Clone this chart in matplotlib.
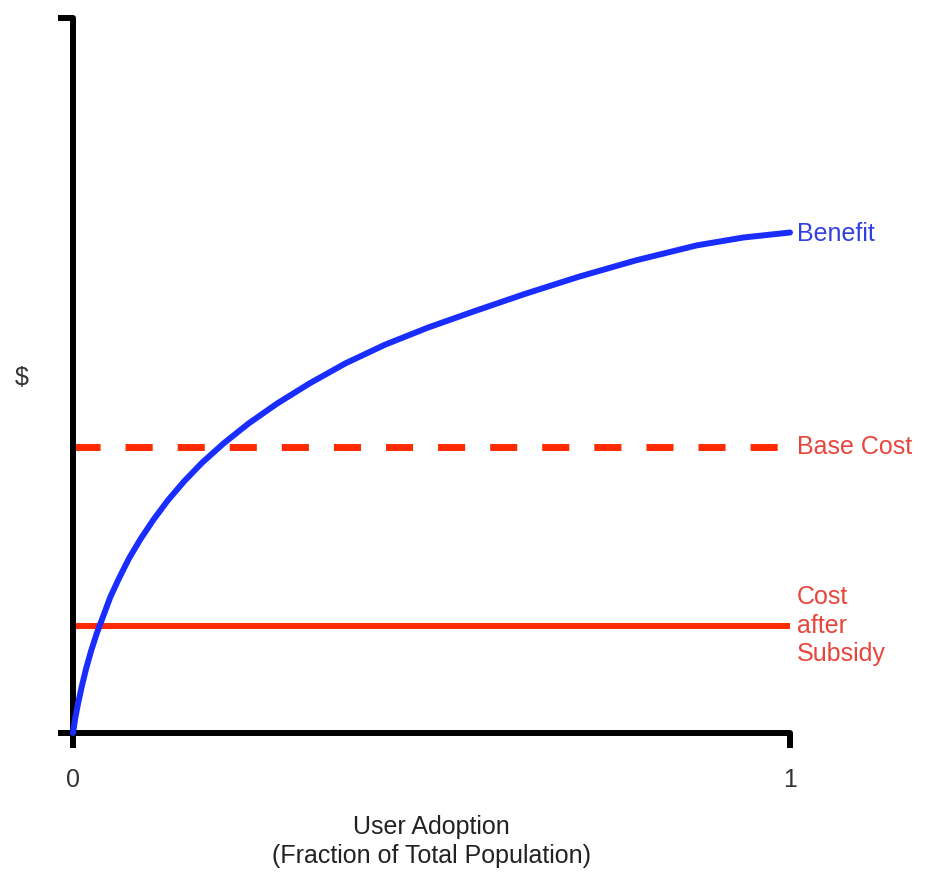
import matplotlib
matplotlib.use("Agg")
import matplotlib.pyplot as plt

plt.rcParams['font.family'] = ['Liberation Sans', 'DejaVu Sans']

# benefit curve (fraction of population -> $ share of axis)
adoption = [0, 0.003, 0.007, 0.012, 0.018, 0.025, 0.033, 0.042, 0.052, 0.064,
            0.078, 0.094, 0.112, 0.132, 0.155, 0.18, 0.21, 0.245, 0.285, 0.33,
            0.38, 0.435, 0.495, 0.56, 0.63, 0.705, 0.785, 0.87, 0.935, 1.0]
benefit = [0, 0.020, 0.041, 0.064, 0.089, 0.114, 0.139, 0.163, 0.190, 0.216,
           0.244, 0.271, 0.298, 0.325, 0.352, 0.378, 0.405, 0.433, 0.461, 0.489,
           0.517, 0.543, 0.567, 0.590, 0.614, 0.638, 0.661, 0.682, 0.693, 0.700]
base_cost = 0.40
subsidy_cost = 0.15

x_ticks = [0, 1]
x_tick_labels = ['0', '1']

blue = '#1a2dff'
red = '#ff2a00'

fig = plt.figure(figsize=(9.34, 8.74), dpi=100)
ax = fig.add_axes([73/934, 1-733/874, 717/934, 715/874])

ax.plot(adoption, benefit, color=blue, lw=4.3, solid_capstyle='round',
        solid_joinstyle='round', clip_on=False, zorder=3)
ax.plot([0, 1], [base_cost, base_cost], color=red, lw=5, dashes=(3.9, 3.6),
        dash_capstyle='butt', clip_on=False, zorder=2)
ax.plot([0, 1], [subsidy_cost, subsidy_cost], color=red, lw=4.3,
        solid_capstyle='butt', clip_on=False, zorder=2)

ax.set_xlim(0, 1)
ax.set_ylim(0, 1)

for s in ['top', 'right']:
    ax.spines[s].set_visible(False)
for s in ['left', 'bottom']:
    ax.spines[s].set_linewidth(4.3)
    ax.spines[s].set_capstyle('round')

ax.set_xticks(x_ticks)
ax.set_xticklabels(x_tick_labels)
ax.set_yticks([0, 1])
ax.set_yticklabels(['', ''])
ax.tick_params(axis='both', length=11, width=4.3, direction='out',
               labelsize=18, labelcolor='#333333', pad=14)

# labels at the right end of each line
ax.annotate('Benefit', xy=(1, benefit[-1]), xytext=(5, -1), textcoords='offset points',
            va='center', ha='left', fontsize=18, color='#3340e0', annotation_clip=False)
ax.annotate('Base Cost', xy=(1, base_cost), xytext=(5, 0), textcoords='offset points',
            va='center', ha='left', fontsize=18, color='#e8453c', annotation_clip=False)
ax.annotate('Cost\nafter\nSubsidy', xy=(1, subsidy_cost), xytext=(5, 0),
            textcoords='offset points', va='center', ha='left', fontsize=18,
            color='#e8453c', linespacing=1.25, annotation_clip=False)

fig.text(22/934, 1-378/874, '$', fontsize=18, color='#333333', ha='center', va='center')
fig.text(431.5/934, 1-841.5/874, 'User Adoption\n(Fraction of Total Population)',
         fontsize=18, color='#222222', ha='center', va='center', linespacing=1.25)

fig.savefig('out.png', dpi=100, facecolor='white')
